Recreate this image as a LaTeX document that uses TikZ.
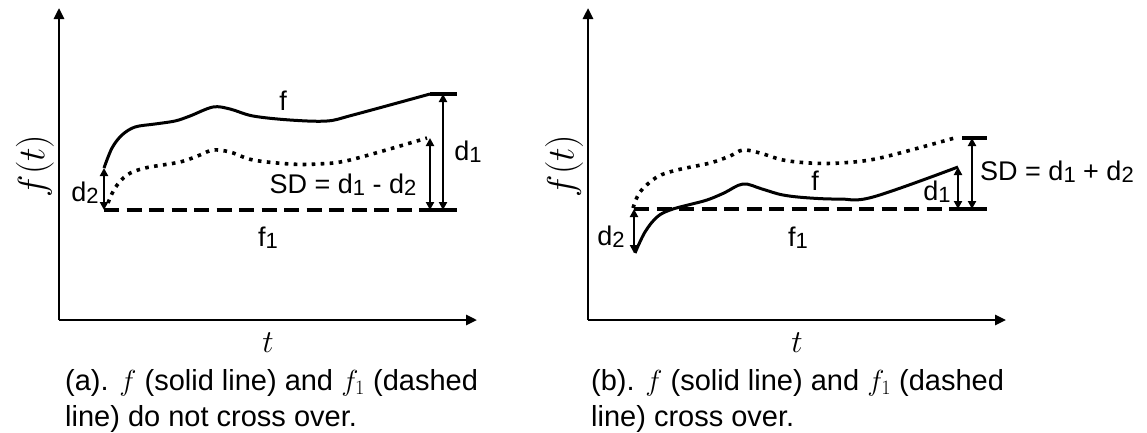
\RequirePackage{fix-cm}
\documentclass[tikz,border=0pt]{standalone}
\usepackage{fontspec}
\setmainfont{Liberation Sans}
\usetikzlibrary{arrows.meta, positioning}

% lowered small digit, as in d1, f1
\newcommand{\lowidx}[1]{\raisebox{-2pt}{\fontsize{22}{22}\selectfont #1}}

\begin{document}
\begin{tikzpicture}[
    x=1pt, y=-1pt,
    axis/.style={line width=2.6pt, -{Triangle[length=11pt, width=10pt]}},
    solidcurve/.style={line width=3pt, line join=round},
    dotcurve/.style={line width=3.6pt, dash pattern=on 3.6pt off 5.4pt},
    dashline/.style={line width=3.5pt, dash pattern=on 15pt off 7.5pt},
    bar/.style={line width=3.5pt},
    dimarrow/.style={line width=2.2pt, {Triangle[length=8pt, width=8pt]}-{Triangle[length=8pt, width=8pt]}},
    lbl/.style={font=\fontsize{27}{27}\selectfont, inner sep=0pt},
    ylbl/.style={font=\fontsize{38}{38}\selectfont, inner sep=0pt, rotate=90},
    xlbl/.style={font=\fontsize{32}{32}\selectfont, inner sep=0pt},
    caption/.style={font=\fontsize{29}{35}\selectfont, align=left, anchor=north west, inner sep=0pt}
]
\useasboundingbox (0,0) rectangle (1147,432);

% PANEL (a)
\coordinate (oa) at (59,320);
\coordinate (ya) at (59,8);
\coordinate (xa) at (477,320);
\draw[axis] (oa) -- (ya);
\draw[axis] (oa) -- (xa);

\coordinate (fa0) at (104,168);
\coordinate (fa1) at (430,94);
\coordinate (fa2) at (457,94);
\coordinate (ga0) at (104,210);
\coordinate (ga1) at (430,210);
\coordinate (ga2) at (457,210);
\coordinate (ha1) at (430,138);
\coordinate (da1) at (443,94);
\coordinate (db1) at (443,210);

\draw[solidcurve] plot[smooth, tension=0.55] coordinates {
    (104,168) (112,148) (122,135) (135,127) (155,124) (175,121) (190,116)
    (213,107) (230,109) (253,116) (290,120) (327,121) (353,115) (430,94)};
\draw[bar] (fa1) -- (fa2);
\draw[dotcurve] plot[smooth, tension=0.55] coordinates {
    (108,203) (115,188) (127,175) (145,168) (180,162) (200,155) (213,150)
    (230,152) (253,160) (290,164) (317,164) (350,160) (427,138)};
\draw[dashline] (ga0) -- (ga1);
\draw[bar] (ga1) -- (ga2);

\draw[dimarrow] (fa0) -- (ga0);
\draw[dimarrow] (ha1) -- (ga1);
\draw[dimarrow] (da1) -- (db1);

\node[lbl] (d2a) at (85,193) {d\lowidx{2}};
\node[lbl] (fla) at (283,101) {f};
\node[lbl] (f1a) at (268,238) {f\lowidx{1}};
\node[lbl] (d1a) at (468,152) {d\lowidx{1}};
\node[lbl] (sda) at (343,185) {SD = d\lowidx{1} - d\lowidx{2}};
\node[ylbl] (yla) at (35,166) {$f(t)$};
\node[xlbl] (xla) at (268,343) {$t$};
\node[caption] (capa) at (65,369) {(a). $f$ (solid line) and $f_1$ (dashed\\[1pt]line) do not cross over.};

% PANEL (b)
\coordinate (ob) at (588,320);
\coordinate (yb) at (588,8);
\coordinate (xb) at (1006,320);
\draw[axis] (ob) -- (yb);
\draw[axis] (ob) -- (xb);

\coordinate (fb0) at (634,253);
\coordinate (fb1) at (958,167);
\coordinate (gb0) at (634,209);
\coordinate (gb1) at (958,209);
\coordinate (gb2) at (987,209);
\coordinate (hb1) at (962,138);
\coordinate (hb2) at (987,138);
\coordinate (sb0) at (972,138);
\coordinate (sb1) at (972,209);

\draw[solidcurve] plot[smooth, tension=0.6] coordinates {
    (635,253) (645,232) (657,217) (670,210) (688,205) (707,200) (724,193)
    (743,184) (762,189) (783,195) (810,198) (840,199) (873,197) (958,167)};
\draw[dotcurve] plot[smooth, tension=0.55] coordinates {
    (633,208) (640,192) (657,177) (677,170) (710,163) (730,156) (743,150)
    (760,153) (783,160) (810,163) (840,163) (880,158) (958,137)};
\draw[dashline] (gb0) -- (gb1);
\draw[bar] (gb1) -- (gb2);
\draw[bar] (hb1) -- (hb2);

\draw[dimarrow] (gb0) -- (fb0);
\draw[dimarrow] (fb1) -- (gb1);
\draw[dimarrow] (sb0) -- (sb1);

\node[lbl] (d2b) at (611,237) {d\lowidx{2}};
\node[lbl] (flb) at (815,181) {f};
\node[lbl] (f1b) at (798,238) {f\lowidx{1}};
\node[lbl] (d1b) at (937,192) {d\lowidx{1}};
\node[lbl, anchor=west] (sdb) at (980,172) {SD = d\lowidx{1} + d\lowidx{2}};
\node[ylbl] (ylb) at (564,166) {$f(t)$};
\node[xlbl] (xlb) at (797,343) {$t$};
\node[caption] (capb) at (591,369) {(b). $f$ (solid line) and $f_1$ (dashed\\[1pt]line) cross over.};

\end{tikzpicture}
\end{document}
